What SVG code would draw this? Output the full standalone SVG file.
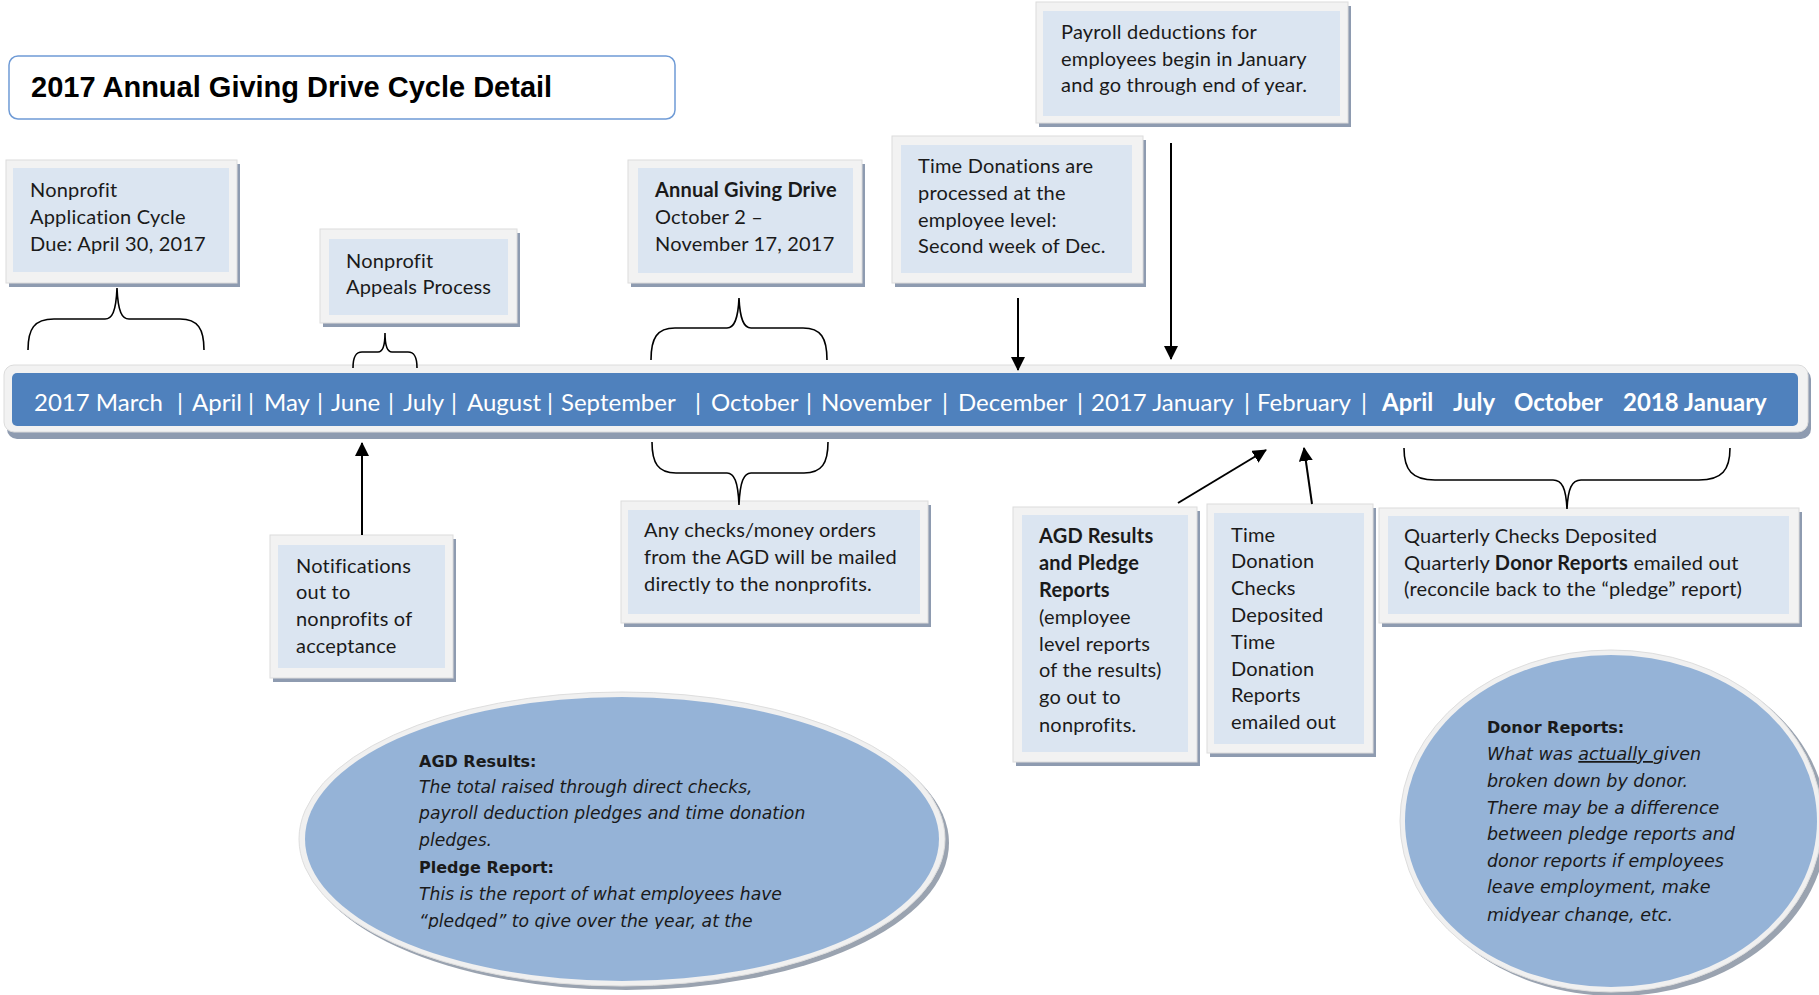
<svg xmlns="http://www.w3.org/2000/svg" width="1819" height="995" viewBox="0 0 1819 995">
<defs>
<style>
.sh{fill:#8e9bb0}
.fr{fill:#f2f2f2;stroke:#dcdcdc;stroke-width:1}
.in{fill:#dbe5f1}
.t{font-family:Lato,"Liberation Sans",sans-serif;font-size:20px;letter-spacing:0.2px;fill:#1a1a1a}
.b{font-weight:bold}
.m{font-family:Lato,"Liberation Sans",sans-serif;font-size:24px;fill:#ffffff}
.e{font-family:"DejaVu Sans",sans-serif;font-size:17.2px;fill:#1a1a1a}
.e2{font-family:"DejaVu Sans",sans-serif;font-size:17.5px;fill:#1a1a1a}
.eb{font-weight:bold;font-size:16px}
.i{font-style:italic}
.ln{fill:none;stroke:#000;stroke-width:2}
.br{fill:none;stroke:#000;stroke-width:1.6}
</style>
<marker id="ah" markerUnits="userSpaceOnUse" markerWidth="14" markerHeight="14" viewBox="0 0 14 14" refX="13" refY="7" orient="auto">
<path d="M0,0 L14,7 L0,14 z" fill="#000"/>
</marker>
<clipPath id="c1"><rect x="300" y="690" width="650" height="239"/></clipPath>
<clipPath id="c2"><rect x="1400" y="650" width="419" height="273"/></clipPath>
</defs>
<rect width="1819" height="995" fill="#ffffff"/>

<g id="title">
<rect x="9" y="56" width="666" height="63" rx="9" fill="#ffffff" stroke="#6f9bd6" stroke-width="1.5"/>
<text x="31" y="97" font-family="'Liberation Sans',Arial,sans-serif" font-size="29" font-weight="bold" fill="#000">2017 Annual Giving Drive Cycle Detail</text>
</g>

<g id="timeline">
<rect class="sh" x="7" y="369" width="1804" height="70" rx="10"/>
<rect class="fr" x="4" y="365" width="1804" height="67" rx="10"/>
<rect x="12" y="373" width="1786" height="53" rx="5" fill="#4f81bd"/>
<text class="m" y="411"><tspan x="34">2017 March</tspan><tspan x="177">|</tspan><tspan x="192">April</tspan><tspan x="248">|</tspan><tspan x="264">May</tspan><tspan x="317">|</tspan><tspan x="331">June</tspan><tspan x="388">|</tspan><tspan x="403">July</tspan><tspan x="451">|</tspan><tspan x="467">August</tspan><tspan x="547">|</tspan><tspan x="561">September</tspan><tspan x="695">|</tspan><tspan x="711">October</tspan><tspan x="806">|</tspan><tspan x="821">November</tspan><tspan x="942">|</tspan><tspan x="958">December</tspan><tspan x="1077">|</tspan><tspan x="1091">2017 January</tspan><tspan x="1244">|</tspan><tspan x="1257">February</tspan><tspan x="1361">|</tspan><tspan x="1382" class="b">April</tspan><tspan x="1453" class="b">July</tspan><tspan x="1514" class="b">October</tspan><tspan x="1623" class="b">2018 January</tspan></text>
</g>

<g id="box-application">
<rect class="sh" x="9" y="164" width="231" height="123"/>
<rect class="fr" x="6" y="160" width="231" height="123"/>
<rect class="in" x="13" y="168" width="216" height="104"/>
<text class="t"><tspan x="30" y="197">Nonprofit</tspan><tspan x="30" y="224">Application Cycle</tspan><tspan x="30" y="251">Due: April 30, 2017</tspan></text>
</g>

<g id="box-appeals">
<rect class="sh" x="323" y="233" width="197" height="94"/>
<rect class="fr" x="320" y="229" width="197" height="94"/>
<rect class="in" x="329" y="239" width="179" height="76"/>
<text class="t"><tspan x="346" y="268">Nonprofit</tspan><tspan x="346" y="294">Appeals Process</tspan></text>
</g>

<g id="box-agd">
<rect class="sh" x="631" y="164" width="234" height="123"/>
<rect class="fr" x="628" y="160" width="234" height="123"/>
<rect class="in" x="638" y="168" width="215" height="105"/>
<text class="t"><tspan x="655" y="197" class="b">Annual Giving Drive</tspan><tspan x="655" y="224">October 2 –</tspan><tspan x="655" y="251">November 17, 2017</tspan></text>
</g>

<g id="box-time-donations">
<rect class="sh" x="895" y="140" width="251" height="147"/>
<rect class="fr" x="892" y="136" width="251" height="147"/>
<rect class="in" x="901" y="145" width="231" height="128"/>
<text class="t"><tspan x="918" y="173">Time Donations are</tspan><tspan x="918" y="200">processed at the</tspan><tspan x="918" y="227">employee level:</tspan><tspan x="918" y="253">Second week of Dec.</tspan></text>
</g>

<g id="box-payroll">
<rect class="sh" x="1039" y="6" width="312" height="121"/>
<rect class="fr" x="1036" y="2" width="312" height="121"/>
<rect class="in" x="1043" y="11" width="297" height="105"/>
<text class="t"><tspan x="1061" y="39">Payroll deductions for</tspan><tspan x="1061" y="66">employees begin in January</tspan><tspan x="1061" y="92">and go through end of year.</tspan></text>
</g>

<g id="box-notifications">
<rect class="sh" x="273" y="539" width="183" height="143"/>
<rect class="fr" x="270" y="535" width="183" height="143"/>
<rect class="in" x="278" y="545" width="167" height="123"/>
<text class="t"><tspan x="296" y="573">Notifications</tspan><tspan x="296" y="599">out to</tspan><tspan x="296" y="626">nonprofits of</tspan><tspan x="296" y="653">acceptance</tspan></text>
</g>

<g id="box-checks">
<rect class="sh" x="624" y="505" width="307" height="122"/>
<rect class="fr" x="621" y="501" width="307" height="122"/>
<rect class="in" x="628" y="510" width="292" height="104"/>
<text class="t"><tspan x="644" y="537">Any checks/money orders</tspan><tspan x="644" y="564">from the AGD will be mailed</tspan><tspan x="644" y="591">directly to the nonprofits.</tspan></text>
</g>

<g id="box-results">
<rect class="sh" x="1016" y="511" width="184" height="255"/>
<rect class="fr" x="1013" y="507" width="184" height="255"/>
<rect class="in" x="1022" y="515" width="166" height="237"/>
<text class="t"><tspan x="1039" y="543" class="b">AGD Results</tspan><tspan x="1039" y="570" class="b">and Pledge</tspan><tspan x="1039" y="597" class="b">Reports</tspan><tspan x="1039" y="624">(employee</tspan><tspan x="1039" y="651">level reports</tspan><tspan x="1039" y="677">of the results)</tspan><tspan x="1039" y="704">go out to</tspan><tspan x="1039" y="732">nonprofits.</tspan></text>
</g>

<g id="box-time-checks">
<rect class="sh" x="1210" y="508" width="166" height="249"/>
<rect class="fr" x="1207" y="504" width="166" height="249"/>
<rect class="in" x="1214" y="513" width="150" height="231"/>
<text class="t"><tspan x="1231" y="542">Time</tspan><tspan x="1231" y="568">Donation</tspan><tspan x="1231" y="595">Checks</tspan><tspan x="1231" y="622">Deposited</tspan><tspan x="1231" y="649">Time</tspan><tspan x="1231" y="676">Donation</tspan><tspan x="1231" y="702">Reports</tspan><tspan x="1231" y="729">emailed out</tspan></text>
</g>

<g id="box-quarterly">
<rect class="sh" x="1382" y="512" width="420" height="115"/>
<rect class="fr" x="1379" y="508" width="420" height="115"/>
<rect class="in" x="1388" y="516" width="401" height="98"/>
<text class="t"><tspan x="1404" y="543">Quarterly Checks Deposited</tspan><tspan x="1404" y="570">Quarterly <tspan class="b">Donor Reports</tspan> emailed out</tspan><tspan x="1404" y="596">(reconcile back to the “pledge” report)</tspan></text>
</g>

<g id="ellipse-agd">
<ellipse cx="626" cy="843" rx="323" ry="147" fill="#9aa3b0"/>
<ellipse cx="622" cy="839" rx="323" ry="147" fill="#f0f0f0" stroke="#dedede" stroke-width="1"/>
<ellipse cx="622" cy="839" rx="317" ry="142" fill="#95b3d7"/>
<text class="e" clip-path="url(#c1)"><tspan x="419" y="767" class="eb">AGD Results:</tspan><tspan x="419" y="793" class="i">The total raised through direct checks,</tspan><tspan x="419" y="819" class="i">payroll deduction pledges and time donation</tspan><tspan x="419" y="846" class="i">pledges.</tspan><tspan x="419" y="873" class="eb">Pledge Report:</tspan><tspan x="419" y="900" class="i">This is the report of what employees have</tspan><tspan x="419" y="927" class="i">“pledged” to give over the year, at the</tspan></text>
</g>

<g id="ellipse-donor">
<ellipse cx="1616" cy="825" rx="211" ry="171" fill="#9aa3b0"/>
<ellipse cx="1611" cy="821" rx="211" ry="171" fill="#f0f0f0" stroke="#dedede" stroke-width="1"/>
<ellipse cx="1611" cy="821" rx="206" ry="166" fill="#95b3d7"/>
<text class="e2" clip-path="url(#c2)"><tspan x="1487" y="733" class="eb">Donor Reports:</tspan><tspan x="1487" y="760" class="i">What was <tspan text-decoration="underline">actually </tspan>given</tspan><tspan x="1487" y="787" class="i">broken down by donor.</tspan><tspan x="1487" y="814" class="i">There may be a difference</tspan><tspan x="1487" y="840" class="i">between pledge reports and</tspan><tspan x="1487" y="867" class="i">donor reports if employees</tspan><tspan x="1487" y="893" class="i">leave employment, make</tspan><tspan x="1487" y="921" class="i">midyear change, etc.</tspan></text>
</g>

<g id="connectors">
<path class="br" d="M28,350 C28,329 34,319 54,319 L105,319 C112,319 116,312 117,288 C118,312 122,319 129,319 L180,319 C198,319 204,329 204,350"/>
<path class="br" d="M353,368 C353,356 356,352 362,352 L378,352 C382,352 385,348 385,333 C385,348 388,352 392,352 L408,352 C414,352 417,356 417,368"/>
<path class="br" d="M651,360 C651,338 657,328 675,328 L727,328 C734,328 738,320 739,298 C740,320 744,328 751,328 L803,328 C821,328 827,338 827,360"/>
<path class="br" d="M652,442 C652,463 658,473 676,473 L727,473 C734,473 738,481 739,505 C740,481 744,473 751,473 L804,473 C822,473 828,463 828,442"/>
<path class="br" d="M1404,448 C1404,470 1412,480 1435,480 L1553,480 C1562,480 1566,488 1567,509 C1568,488 1572,480 1581,480 L1699,480 C1722,480 1730,470 1730,448"/>
<line class="ln" x1="362" y1="535" x2="362" y2="443" marker-end="url(#ah)"/>
<line class="ln" x1="1018" y1="298" x2="1018" y2="370" marker-end="url(#ah)"/>
<line class="ln" x1="1171" y1="143" x2="1171" y2="359" marker-end="url(#ah)"/>
<line class="ln" x1="1178" y1="503" x2="1266" y2="450" marker-end="url(#ah)"/>
<line class="ln" x1="1312" y1="504" x2="1304" y2="448" marker-end="url(#ah)"/>
</g>
</svg>
